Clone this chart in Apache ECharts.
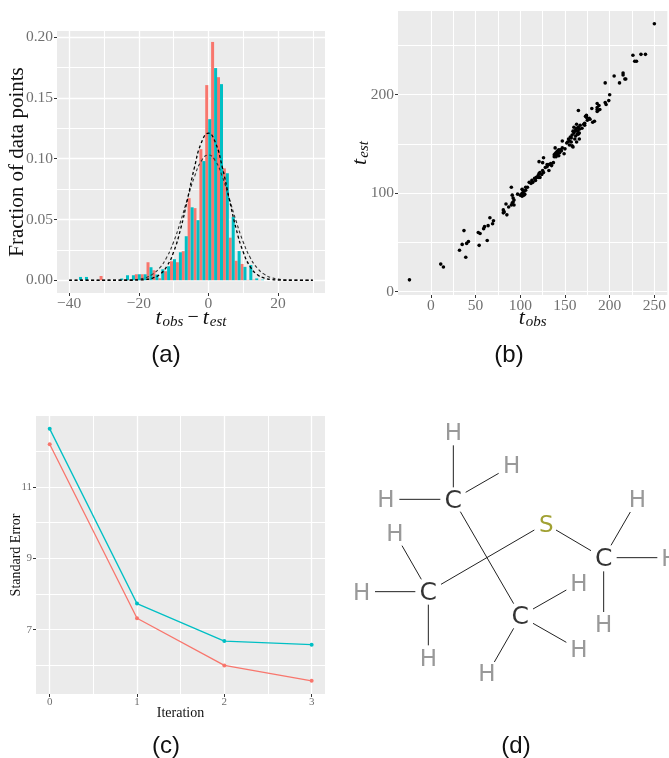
<!DOCTYPE html>
<html>
<head>
<meta charset="utf-8">
<style>html,body{margin:0;padding:0;background:#fff}#c{width:669px;height:758px}</style>
<script src="https://cdn.jsdelivr.net/npm/echarts@6/dist/echarts.min.js"></script>
</head>
<body>
<div id="c"></div>
<script>
// (a) histogram
const binCenters = [-38.85,-37.16,-35.47,-33.79,-32.1,-30.41,-28.73,-27.04,-25.35,-23.67,-21.98,-20.29,-18.6,-16.92,-15.23,-13.54,-11.86,-10.17,-8.48,-6.8,-5.11,-3.42,-1.73,-0.05,1.64,3.33,5.01,6.7,8.39,10.08,11.76,13.45,15.14,16.82,18.51];
const histRed  = [0,0,0,0,0,0.0035,0,0,0,0.0005,0.0005,0.0049,0.0049,0.0148,0.0082,0.0016,0.0074,0.0156,0.0148,0.0239,0.0675,0.0593,0.1078,0.1605,0.196,0.167,0.092,0.035,0.016,0.0134,0.0003,0.0005,0.0003,0,0];
const histTeal = [0,0.0027,0.0027,0,0,0,0,0,0.0014,0.0041,0.0041,0.0049,0.0049,0.0107,0.0047,0.009,0.0115,0.0173,0.023,0.0362,0.06,0.0494,0.098,0.1325,0.1745,0.1613,0.088,0.052,0.024,0.011,0.0125,0.0015,0.0005,0,0];
const curveX    = [-40,-24,-22,-20,-18,-16,-14,-12,-10,-8,-6,-4,-2,0,2,4,6,8,10,12,14,16,18,20,22,24,30];
const curveTall = [0,0,0,0.0002,0.0006,0.0018,0.0047,0.0112,0.0232,0.042,0.0667,0.0929,0.1133,0.121,0.1133,0.0929,0.0667,0.042,0.0232,0.0112,0.0047,0.0018,0.0006,0.0002,0,0,0];
const curveWide = [0,0.0001,0.0003,0.0009,0.0022,0.005,0.0101,0.0187,0.0315,0.0483,0.0672,0.0852,0.0982,0.103,0.0982,0.0852,0.0672,0.0483,0.0315,0.0187,0.0101,0.005,0.0022,0.0009,0.0003,0.0001,0];
// (b) scatter
const tObsEst = [[-24,12],[11,28],[14,25],[32,42],[35,48],[37,62],[39,35],[40,49],[42,51],[53,60],[54,47],[55,59],[59,64],[60,66],[63,52],[64,67],[66,75],[69,69],[70,72],
[81,80],[81,83],[82,81],[84,89],[85,78],[87,86],[90,106],[90,88],[91,98],[91,90],[92,91],[93,88],[93,93],[97,99],[100,98],[102,97],[102,104],[103,100],[104,102],[105,99],[106,103],[106,106],[108,106],[110,111],[112,110],[113,113],[114,111],[116,115],[117,113],[118,116],[120,118],[121,120],[121,132],[122,116],[124,119],[125,123],[125,131],[126,121],[126,136],[128,126],[130,127],[132,129],[132,123],[134,130],[135,128],[137,131],[138,137],[139,140],[139,146],[140,137],[141,142],[142,140],[143,138],[144,141],[145,144],[146,143],[147,146],[147,153],[149,140],[150,145],[152,151],[153,152],[154,155],[155,149],[156,157],[157,152],[158,159],[158,148],[159,147],[160,167],[160,161],[161,155],[162,164],[162,158],[163,170],[163,152],[164,163],[165,160],[165,184],[166,155],[166,165],[167,169],[169,166],[171,170],[172,171],[173,178],[174,179],[175,174],[177,176],[178,175],[180,186],[181,172],[183,173],[186,187],[186,191],[186,183],[188,189],[189,185],[195,192],[195,212],[196,190],[199,194],[200,200],[205,219],[211,212],[215,222],[215,220],[217,216],[218,216],[226,240],[228,234],[230,234],[235,241],[240,241],[250,272],
[138,139],[140,141],[141,139],[142,143],[143,144],[155,153],[157,156],[159,163],[161,163],[163,166],[164,160],[165,167],[166,161],[186,185],[187,184],[102,100],[104,98],[103,103],[92,95],[120,116],[122,121],[130,129],[172,169],[174,177]];
// (c) standard error per iteration
const iterations = [0,1,2,3];
const seRed  = [12.19,7.32,6.0,5.57];
const seTeal = [12.62,7.73,6.68,6.58];
// (d) molecule, in drawing units
const atomsC = [[340,268],[265,545],[541,617],[791,443]];
const atomsS = [[619,342]];
const atomsH = [[340,65],[515,165],[138,268],[165,368],[65,545],[265,745],[717,518],[717,718],[441,790],[892,268],[990,443],[791,643]];
const bonds = [[[340,106],[340,232]],[[377,247],[476,190]],[[178,268],[301,268]],[[361,305],[521,581]],[[303,523],[583,360]],[[648,360],[753,422]],[[813,406],[871,306]],[[830,443],[952,443]],[[791,484],[791,606]],[[244,508],[186,407]],[[105,545],[226,545]],[[265,584],[265,706]],[[579,597],[679,540]],[[579,640],[679,697]],[[521,655],[463,756]]];

const RED = '#F8766D', TEAL = '#00BFC4', SERIF = '"Liberation Serif", serif', SANS = '"Liberation Sans", sans-serif';
const GRID_BG = '#EBEBEB';

const grids = [
  {left:57, top:31, width:268, height:262, show:true, backgroundColor:GRID_BG, borderWidth:0},
  {left:398, top:11, width:270, height:284, show:true, backgroundColor:GRID_BG, borderWidth:0},
  {left:36, top:416, width:289, height:278, show:true, backgroundColor:GRID_BG, borderWidth:0},
  {left:340, top:410, width:329, height:348}
];

// Two axes share each side of a panel: the first draws the minor grid, the second the major grid, ticks and labels.
function gridAxis(kind, gridIndex, min, max, minor, major, cfg) {
  const pos = kind === 'x' ? 'bottom' : 'left';
  const base = {type:'value', gridIndex, min, max, position:pos, scale:true, axisLine:{show:false, onZero:false}};
  return [
    Object.assign({}, base, {
      axisTick:{show:false, customValues:minor}, axisLabel:{show:false},
      splitLine:{show:true, showMinLine:true, showMaxLine:true, lineStyle:{color:'#fff', width:cfg.minorWidth}}
    }),
    Object.assign({}, base, {
      axisTick:{show:true, length:3, customValues:major, lineStyle:{color:'#333', width:1}},
      axisLabel:{show:true, customValues:cfg.labels, margin:cfg.margin, color:'#707070', fontFamily:SERIF, fontSize:cfg.fontSize,
        formatter:cfg.format},
      splitLine:{show:true, showMinLine:true, showMaxLine:true, lineStyle:{color:'#fff', width:cfg.majorWidth}},
      name:cfg.name, nameLocation:'middle', nameGap:cfg.nameGap, nameMoveOverlap:false,
      nameRotate:kind === 'y' ? 90 : 0,
      nameTextStyle:cfg.nameStyle
    })
  ];
}
const minusFmt = v => String(v).replace('-', '\u2212');
const mathRich = {
  t:{fontFamily:SERIF, fontStyle:'italic', fontSize:22, color:'#111', lineHeight:24, verticalAlign:'middle'},
  s:{fontFamily:SERIF, fontStyle:'italic', fontSize:15, color:'#111', lineHeight:24, verticalAlign:'bottom', padding:[0,0,0,1]},
  m:{fontFamily:SERIF, fontSize:20, color:'#111', lineHeight:24, padding:[0,4,0,4]}
};
const xAxes = [
  ...gridAxis('x',0,-43.5,33.5,[-30,-10,10,30],[-40,-20,0,20],{minorWidth:1.1,majorWidth:1.3,labels:[-40,-20,0,20],margin:3,fontSize:15.5,format:minusFmt,
     name:'{t|t}{s|obs}{m|\u2212}{t|t}{s|est}',nameGap:13,nameStyle:{rich:mathRich}}),
  ...gridAxis('x',1,-36.8,264.5,[25,75,125,175,225],[0,50,100,150,200,250],{minorWidth:1,majorWidth:1.1,labels:[0,50,100,150,200,250],margin:3,fontSize:15.5,format:minusFmt,
     name:'{t|t}{s|obs}',nameGap:11,nameStyle:{rich:mathRich}}),
  ...gridAxis('x',2,-0.157,3.153,[0.5,1.5,2.5],[0,1,2,3],{minorWidth:1,majorWidth:1.3,labels:[0,1,2,3],margin:3,fontSize:11,format:minusFmt,
     name:'Iteration',nameGap:12,nameStyle:{fontFamily:SERIF,fontSize:14,color:'#111'}}),
  {type:'value', gridIndex:3, min:0, max:987, show:false}
];
const yAxes = [
  ...gridAxis('y',0,-0.0105,0.205,[0.025,0.075,0.125,0.175],[0,0.05,0.1,0.15,0.2],{minorWidth:1.1,majorWidth:1.3,labels:[0,0.05,0.1,0.15,0.2],margin:4,fontSize:15.5,format:v=>v.toFixed(2),
     name:'Fraction of data points',nameGap:29,nameStyle:{fontFamily:SERIF,fontSize:21,color:'#111'}}),
  ...gridAxis('y',1,-3.4,285,[50,150,250],[0,100,200],{minorWidth:1,majorWidth:1.2,labels:[0,100,200],margin:4,fontSize:15.5,format:minusFmt,
     name:'{t|t}{s|est}',nameGap:26,nameStyle:{rich:mathRich}}),
  ...gridAxis('y',2,5.2,12.98,[6,8,10,12],[7,9,11],{minorWidth:1.1,majorWidth:1.1,labels:[7,9,11],margin:4,fontSize:11,format:minusFmt,
     name:'Standard Error',nameGap:13,nameStyle:{fontFamily:SERIF,fontSize:14,color:'#111'}}),
  {type:'value', gridIndex:3, min:0, max:1044, inverse:true, show:false}
];

function pairs(xs, ys){ return xs.map((x,i)=>[x, ys[i]]); }
function atomSeries(list, name, color, size){
  return {type:'scatter', xAxisIndex:6, yAxisIndex:6, silent:true, clip:false, symbolSize:1, itemStyle:{color:'transparent'}, z:5,
    data:list.map(p=>({name, value:p})),
    label:{show:true, position:'inside', offset:[0,2], formatter:'{b}', color, fontFamily:'"DejaVu Sans", sans-serif', fontSize:size}};
}
const series = [
  {type:'bar', name:'red', xAxisIndex:0, yAxisIndex:0, data:pairs(binCenters,histRed), barWidth:3, barGap:0, itemStyle:{color:RED}, silent:true, z:2},
  {type:'bar', name:'teal', xAxisIndex:0, yAxisIndex:0, data:pairs(binCenters,histTeal), barWidth:3, barGap:0, itemStyle:{color:TEAL}, silent:true, z:2},
  {type:'line', xAxisIndex:0, yAxisIndex:0, data:pairs(curveX,curveWide), smooth:true, symbol:'none', lineStyle:{color:'#333', width:1.1, type:[3,2.5]}, silent:true, z:3},
  {type:'line', xAxisIndex:0, yAxisIndex:0, data:pairs(curveX,curveTall), smooth:true, symbol:'none', lineStyle:{color:'#000', width:1.3, type:[3,2.5]}, silent:true, z:3},
  {type:'scatter', xAxisIndex:2, yAxisIndex:2, data:tObsEst, symbolSize:3.6, itemStyle:{color:'#000', opacity:1}, silent:true},
  {type:'line', xAxisIndex:4, yAxisIndex:4, data:pairs(iterations,seRed), symbol:'circle', symbolSize:4, itemStyle:{color:RED}, lineStyle:{color:RED, width:1.3}, silent:true},
  {type:'line', xAxisIndex:4, yAxisIndex:4, data:pairs(iterations,seTeal), symbol:'circle', symbolSize:4, itemStyle:{color:TEAL}, lineStyle:{color:TEAL, width:1.3}, silent:true},
  ...bonds.map(b=>({type:'line', xAxisIndex:6, yAxisIndex:6, data:b, symbol:'none', clip:false, silent:true, lineStyle:{color:'#222', width:1}})),
  atomSeries(atomsC,'C','#000',25),
  atomSeries(atomsH,'H','#808080',23),
  atomSeries(atomsS,'S','#8a8a00',23)
];
const panelLabels = [['(a)',166,343],['(b)',509,343],['(c)',166,734],['(d)',516,734]];
const chart = echarts.init(document.getElementById('c'), null, {renderer:'canvas', width:669, height:758});
chart.setOption({
  animation:false, backgroundColor:'#fff',
  title:panelLabels.map(([text,left,top])=>({text,left,top,textAlign:'center',padding:0,textStyle:{fontFamily:SANS,fontWeight:'normal',fontSize:24,color:'#111'}})),
  grid:grids, xAxis:xAxes, yAxis:yAxes, series
});
</script>
</body>
</html>
